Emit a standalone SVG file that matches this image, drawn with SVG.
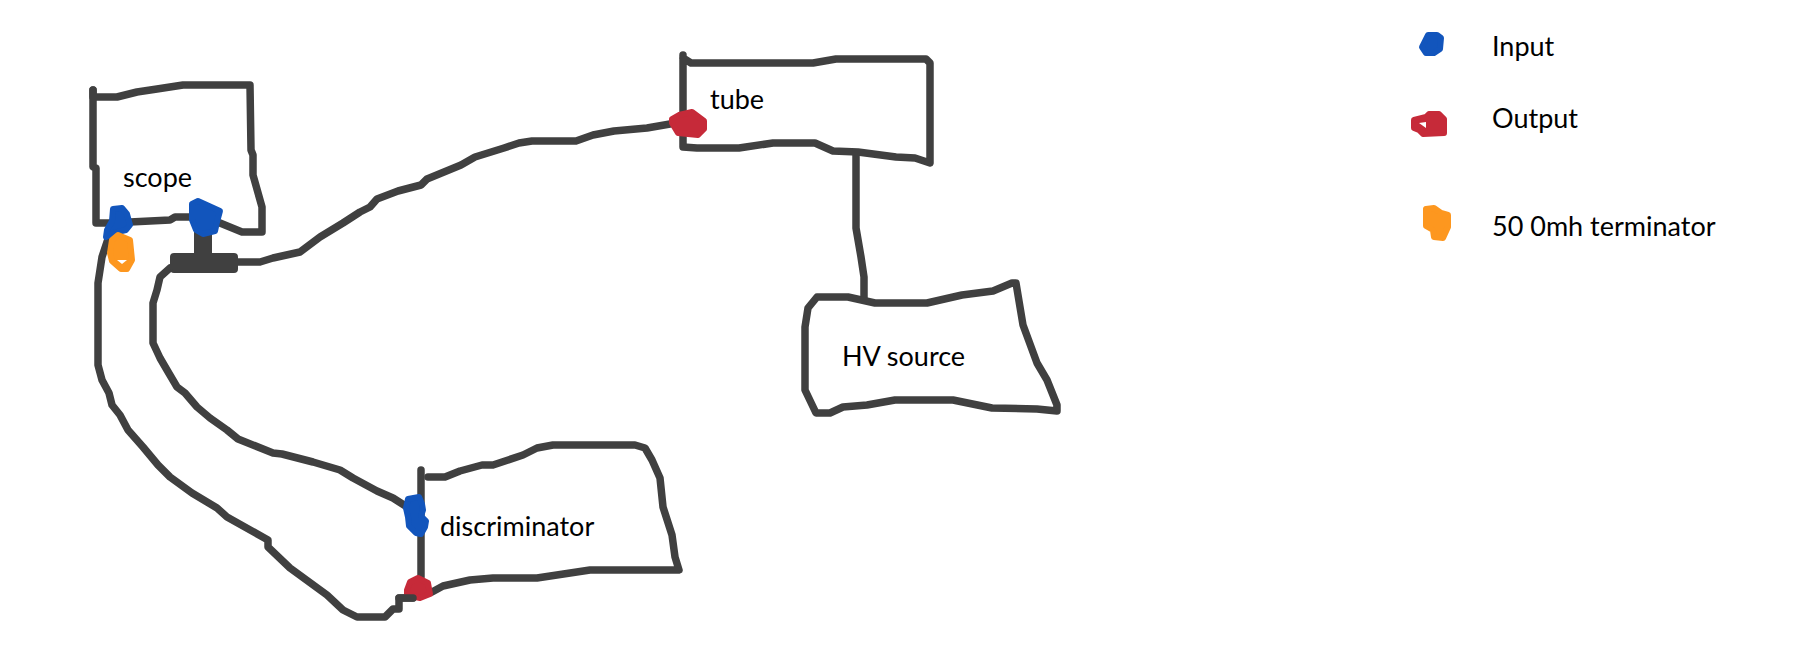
<svg xmlns="http://www.w3.org/2000/svg" width="1807" height="671" viewBox="0 0 1807 671">
<style>
.ink{fill:none;stroke:#404040;stroke-width:7.5;stroke-linejoin:round;stroke-linecap:round}
.bar{fill:#404040;stroke:#404040;stroke-width:2;stroke-linejoin:round}
.in{fill:#1255bc;stroke:#1255bc;stroke-width:6;stroke-linejoin:round}
.out{fill:#c62a39;stroke:#c62a39;stroke-width:6;stroke-linejoin:round}
.term{fill:#fd971f;stroke:#fd971f;stroke-width:6;stroke-linejoin:round}
.hole{fill:#fff}
text{font-family:"Lato","Liberation Sans",sans-serif;font-size:27px;fill:#000}
</style>
<rect width="1807" height="671" fill="#fff"/>
<g id="connectors">
<polyline class="ink" points="110,233 102,257 98,283 98,365 102,380 109,393 112,405 120,415 128,430 143,447 158,465 170,477 192,493 217,508 227,517 268,540 268,547 290,568 327,595 343,610 357,617 385,617 393,609 399,609 399,598 413,598"/>
<polyline class="ink" points="407,507 393,498 377,491 353,478 340,470 313,462 282,454 273,453 238,439 227,430 210,418 197,407 185,393 177,387 167,370 160,358 153,343 153,303 157,290 160,277 170,268"/>
<polyline class="ink" points="237,262 260,262 273,258 300,252 320,237 343,223 360,212 370,207 377,199 398,191 421,185 427,179 461,165 475,157 504,148 519,143 532,141 576,141 593,135 614,131 647,128 670,124"/>
<polyline class="ink" points="856,155 856,228 861,257 864,277 864,300"/>
<rect class="bar" x="171" y="254" width="66" height="18" rx="3"/>
<rect class="bar" x="195" y="232" width="16" height="24"/>
</g>
<g id="scope">
<polyline class="ink" points="93,90 93,97 117,97 137,92 157,89 170,87 183,85 250,85 251,150 253,155 253,175 262,207 262,232 242,232 220,223"/>
<polyline class="ink" points="93,90 93,167 96,168 96,223 110,223 170,220 175,217 193,217"/>
<text x="123" y="187">scope</text>
<polygon class="in" points="113,209 122,208 127,214 130,225 126,230 113,233 106,237 107,230 112,221"/>
<polygon class="in" points="192,204 198,201 220,211 217,222 215,231 203,234 196,230 192,220"/>
<polygon class="term" points="112,240 118,235 130,240 132,260 127,269 121,269 112,261 110,253"/>
<polygon class="hole" points="117,260 127,260 122,264"/>
</g>
<g id="tube">
<polyline class="ink" points="683,55 683,147 697,148 739,148 773,143 815,143 833,151 858,152 896,157 915,158 930,163 930,63 926,59 836,59 813,63 691,63 683,58"/>
<text x="710" y="109">tube</text>
<polygon class="out" points="672,119 679,115 692,112 704,121 704,129 698,135 678,133 672,123"/>
</g>
<g id="hv-source">
<polygon class="ink" points="817,297 848,297 875,303 927,303 962,295 993,291 1012,283 1016,283 1023,325 1037,363 1047,380 1057,405 1057,411 1037,409 992,408 953,400 895,400 867,405 843,407 830,413 816,413 805,390 805,327 808,308"/>
<text x="842" y="366">HV source</text>
</g>
<g id="discriminator">
<polyline class="ink" points="421,470 421,577"/>
<polyline class="ink" points="428,477 445,477 460,471 482,465 493,465 523,455 537,448 553,445 635,445 645,448 652,460 660,478 663,507 672,535 675,557 679,570 590,570 537,578 493,578 470,580 443,586 432,592"/>
<text x="440" y="536">discriminator</text>
<polygon class="in" points="408,499 419,497 422,504 423,510 421,516 426,521 425,527 421,534 416,533 409,526 408,517 406,508"/>
<polygon class="out" points="407,590 410,582 418,578 428,583 430,594 420,598 407,595"/>
<polyline class="ink" points="399,598 413,598"/>
</g>
<g id="legend-input">
<polygon class="in" points="1428,35 1437,35 1441,38 1440,49 1434,53 1426,53 1422,47 1424,43"/>
<text x="1492" y="56">Input</text>
</g>
<g id="legend-output">
<polygon class="out" points="1414,120 1426,117 1429,114 1439,114 1444,119 1444,133 1423,134 1419,130 1414,128"/>
<polygon class="hole" points="1419,123 1426,122 1426,128"/>
<text x="1492" y="128">Output</text>
</g>
<g id="legend-terminator">
<polygon class="term" points="1426,209 1434,208 1441,213 1448,215 1448,227 1443,238 1434,237 1433,230 1426,226"/>
<text x="1492" y="236">50 0mh terminator</text>
</g>
</svg>
